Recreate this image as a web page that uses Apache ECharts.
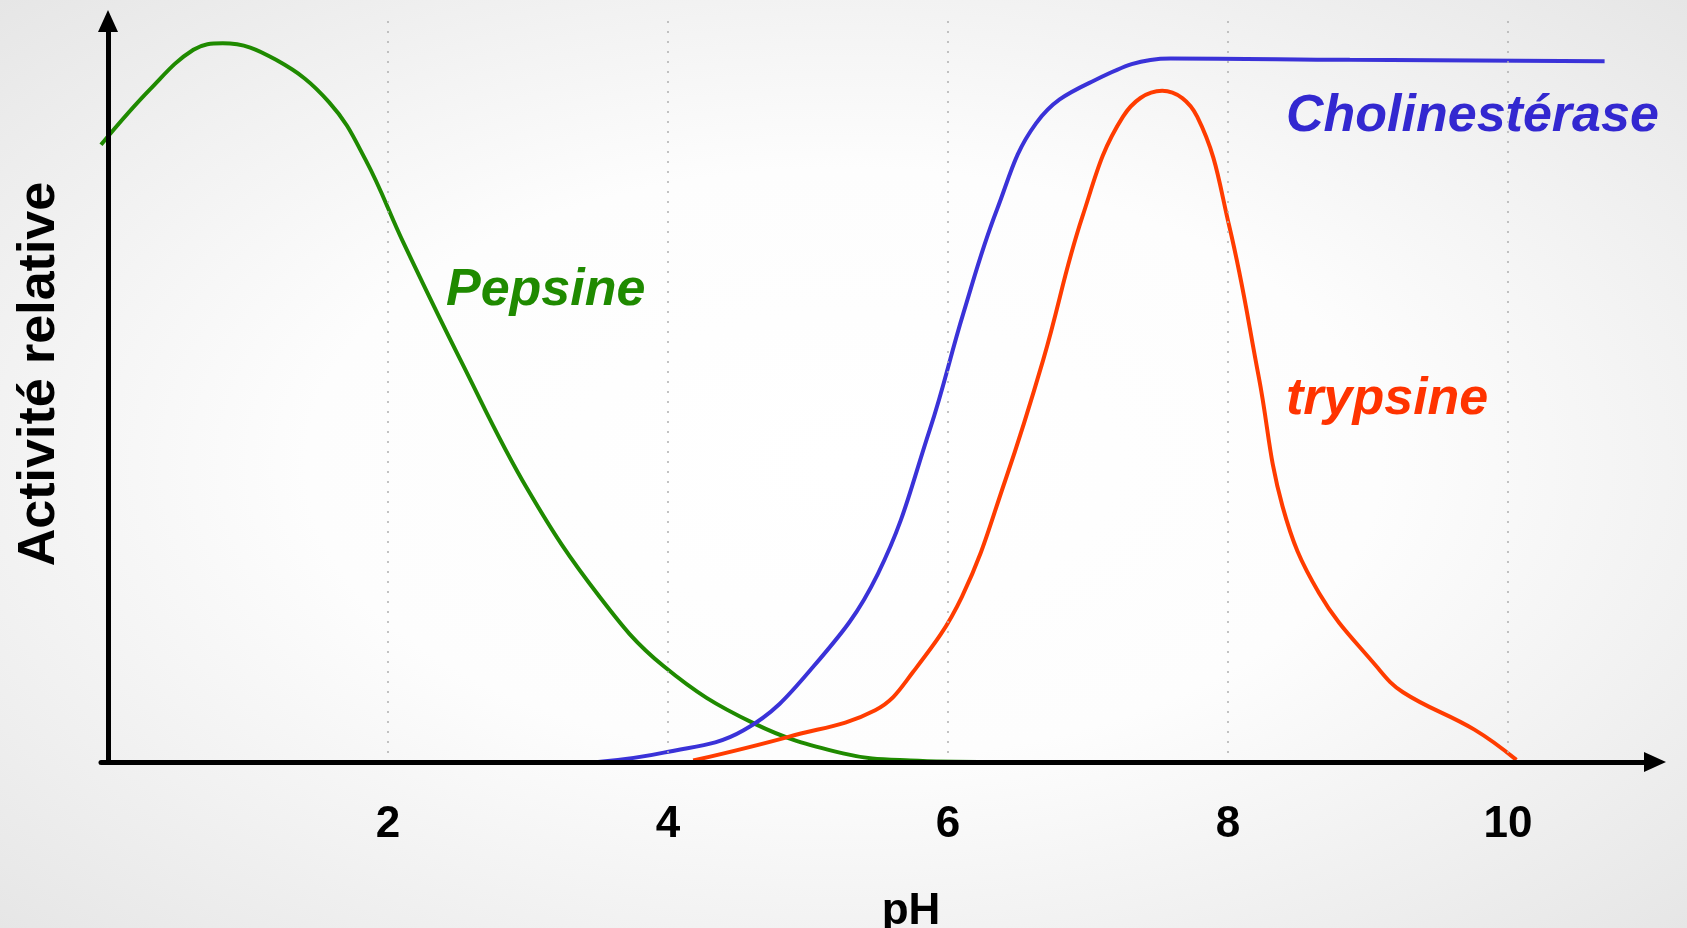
<!DOCTYPE html>
<html><head><meta charset="utf-8">
<script src="https://cdn.jsdelivr.net/npm/echarts@6/dist/echarts.min.js"></script>
<style>
html,body{margin:0;padding:0;width:1687px;height:928px;overflow:hidden;
background: radial-gradient(ellipse at 50% 50%, #ffffff 0%, #fdfdfd 45%, #e6e6e6 100%);}
#c{width:1687px;height:928px;}
</style></head><body><div id="c"></div>
<script>
// x-axis tick labels (pH)
const tickValues = [2, 4, 6, 8, 10];

// Pepsine
const pepsinePH  = [-0.05, 0.3, 0.61, 0.82, 1.2, 1.58, 1.84, 2.11, 2.52, 3.0, 3.51, 3.97, 4.61, 5.25, 5.73, 6.3, 10.6];
const pepsineAct = [85.8, 93.5, 99.0, 99.9, 97.6, 91.7, 83.7, 72.2, 55.8, 37.8, 23.0, 13.3, 5.4, 1.2, 0.2, 0, 0];

// Cholinestérase
const cholPH  = [3.5, 3.97, 4.54, 5.04, 5.5, 5.87, 6.11, 6.35, 6.63, 7.01, 7.59, 8.87, 10.69];
const cholAct = [0, 1.3, 4.4, 13.3, 26.2, 46.2, 62.4, 76.8, 88.8, 94.4, 97.8, 97.6, 97.4];

// Trypsine
const trypPH  = [4.18, 4.86, 5.48, 5.75, 6.1, 6.41, 6.68, 6.96, 7.25, 7.53, 7.78, 8.01, 8.22, 8.39, 8.65, 9.06, 9.25, 9.76, 10.06];
const trypAct = [0.2, 3.5, 7.2, 12.5, 23.0, 39.2, 55.9, 75.8, 89.7, 93.3, 89.7, 74.4, 53.5, 35.5, 23.5, 13.3, 9.7, 4.5, 0.3];

const seriesNames = ['Pepsine', 'Cholinestérase', 'trypsine'];
const xTitle = 'pH';
const yTitle = 'Activité relative';

const GREEN = '#1f8a00', BLUE = '#3a32d8', RED = '#ff3c00';
const FONT = '"Liberation Sans", Arial, Helvetica, sans-serif';

function zip(a, b) { return a.map((x, i) => [x, b[i]]); }

const chart = echarts.init(document.getElementById('c'), null, {renderer: 'canvas'});

function lineSeries(name, xs, ys, color) {
  return {
    name: name, type: 'line', data: zip(xs, ys), smooth: 0.4,
    showSymbol: false, symbol: 'none', z: 2,
    lineStyle: {color: color, width: 4}
  };
}

const labelFont = {fontSize: 52, fontWeight: 'bold', fontStyle: 'italic', fontFamily: FONT};

chart.setOption({
  backgroundColor: 'transparent',
  animation: false,
  grid: {left: 101, right: 32, top: 21, bottom: 166, containLabel: false},
  xAxis: {
    type: 'value', min: -0.05, max: 11.05, z: 5,
    axisLine: {show: true, onZero: false, symbol: ['none', 'triangle'], symbolSize: [20, 22],
      lineStyle: {color: '#000', width: 5}},
    axisTick: {show: false, customValues: tickValues},
    axisLabel: {customValues: tickValues, margin: 41, fontSize: 44, fontWeight: 'bold', color: '#000', fontFamily: FONT},
    splitLine: {show: true, lineStyle: {color: '#b0b0b0', width: 1.5, type: [2, 8]}}
  },
  yAxis: {
    type: 'value', min: 0, max: 103, z: 5,
    axisLine: {show: true, symbol: ['none', 'triangle'], symbolSize: [20, 22],
      lineStyle: {color: '#000', width: 5}},
    axisTick: {show: false}, axisLabel: {show: false}, splitLine: {show: false}
  },
  series: [
    lineSeries(seriesNames[0], pepsinePH, pepsineAct, GREEN),
    lineSeries(seriesNames[1], cholPH, cholAct, BLUE),
    lineSeries(seriesNames[2], trypPH, trypAct, RED)
  ],
  graphic: [
    {type: 'text', x: 446, y: 291, style: Object.assign({text: seriesNames[0], fill: GREEN, align: 'left', verticalAlign: 'middle'}, labelFont)},
    {type: 'text', x: 1286, y: 117, style: Object.assign({text: seriesNames[1], fill: '#3328d0', align: 'left', verticalAlign: 'middle'}, labelFont)},
    {type: 'text', x: 1286, y: 400, style: Object.assign({text: seriesNames[2], fill: '#ff3300', align: 'left', verticalAlign: 'middle'}, labelFont)},
    {type: 'text', x: 40, y: 374, rotation: Math.PI / 2,
      style: {text: yTitle, fill: '#000', align: 'center', verticalAlign: 'middle', fontSize: 52, fontWeight: 'bold', fontFamily: FONT}},
    {type: 'text', x: 911, y: 912,
      style: {text: xTitle, fill: '#000', align: 'center', verticalAlign: 'middle', fontSize: 44, fontWeight: 'bold', fontFamily: FONT}}
  ]
});
</script></body></html>
